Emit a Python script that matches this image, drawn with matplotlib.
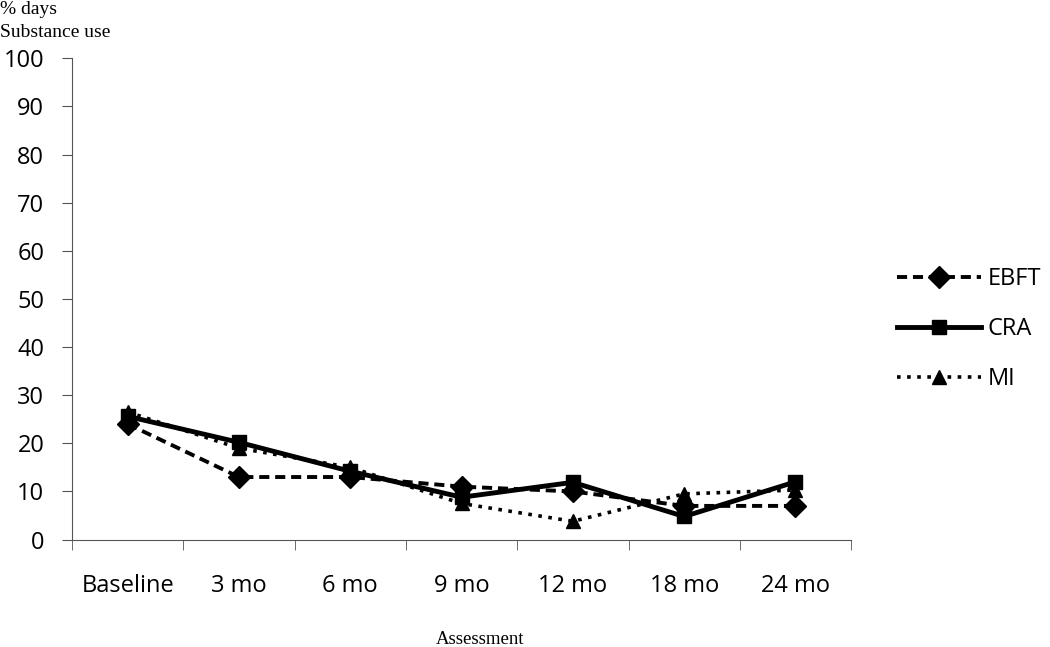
import matplotlib
matplotlib.use("Agg")
import matplotlib.pyplot as plt
import numpy as np

categories = ["Baseline", "3 mo", "6 mo", "9 mo", "12 mo", "18 mo", "24 mo"]
ebft = [24, 13, 13, 11, 10, 7, 7]
cra = [25.6, 20.2, 14.2, 8.8, 11.9, 4.8, 12]
mi = [26.5, 19, 15, 7.5, 3.8, 9.5, 10.3]

plt.rcParams['font.family'] = ['Open Sans', 'DejaVu Sans']

fig = plt.figure(figsize=(10.5, 6.47), dpi=100)
ax = fig.add_axes([0.0686, 0.166, 0.742, 0.744])

x = np.arange(len(categories))
ax.plot(x, ebft, color="black", linestyle=(0, (2.6, 1.5)), linewidth=2.8,
        marker="D", markersize=11, label="EBFT")
ax.plot(x, cra, color="black", linestyle="-", linewidth=3.5,
        marker="s", markersize=9.5, label="CRA")
ax.plot(x, mi, color="black", linestyle=(0, (1, 1.8)), linewidth=2.6,
        marker="^", markersize=10, label="MI")

ax.set_xlim(-0.5, len(categories) - 0.5)
ax.set_ylim(0, 100)
ax.set_yticks(np.arange(0, 101, 10))
ax.set_xticks(x)
ax.set_xticklabels(categories)
ax.set_xticks(np.arange(-0.5, len(categories), 1), minor=True)
ax.tick_params(axis="x", which="major", length=0, pad=25, labelsize=17)
ax.tick_params(axis="x", which="minor", length=7, direction="out", color="#555555")
ax.tick_params(axis="y", length=7, direction="out", labelsize=17, color="#555555", pad=13)

for side in ["top", "right"]:
    ax.spines[side].set_visible(False)
ax.spines["left"].set_color("#555555")
ax.spines["bottom"].set_color("#555555")

fig.text(0.0, 0.985, "% days", family="Liberation Serif", fontsize=14, va="center")
fig.text(0.0, 0.949, "Substance use", family="Liberation Serif", fontsize=14, va="center")
fig.text(0.457, 0.012, "Assessment", family="Liberation Serif", fontsize=13.5, ha="center", va="center")

leg = ax.legend(loc="center left", bbox_to_anchor=(897 / 1050, 1 - 329 / 647),
                bbox_transform=fig.transFigure, frameon=False, borderpad=0,
                borderaxespad=0, fontsize=17, handlelength=3.55,
                handletextpad=0.3, labelspacing=1.1)

fig.savefig("out.png", dpi=100)
